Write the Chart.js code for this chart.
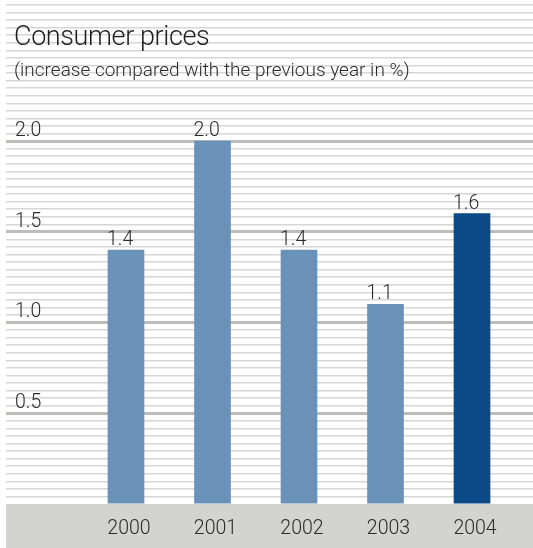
<!DOCTYPE html>
<html>
<head>
<meta charset="utf-8">
<title>Consumer prices</title>
<script src="https://cdn.jsdelivr.net/npm/chart.js@4.4.1/dist/chart.umd.min.js"></script>
<style>
  html, body { margin: 0; padding: 0; background: #fff; }
  #wrap { width: 533px; height: 548px; position: relative; }
</style>
</head>
<body>
<div id="wrap"><canvas id="pricesChart" width="533" height="548"></canvas></div>
<script>
// Consumer price increase per year (%)
const years = [2000, 2001, 2002, 2003, 2004];
const increase = [1.4, 2.0, 1.4, 1.1, 1.6];
const barColors = ['#6a92b9', '#6a92b9', '#6a92b9', '#6a92b9', '#0b4a86'];
const yLabels = [0.5, 1.0, 1.5, 2.0];
const titleText = 'Consumer prices';
const subtitleText = '(increase compared with the previous year in %)';

const FONT = "Roboto, 'Liberation Sans', Arial, sans-serif";
const TEXT = '#2b2b2b';
const Y_MAX = 2.75;
const STRIPES_PER_UNIT = 24;

Chart.defaults.font.family = FONT;
Chart.defaults.color = TEXT;

function isMajor(v) {
    return yLabels.some(l => Math.abs(l - v) < 1e-6);
}

// drop the extra room Chart.js keeps for edge labels
function noEdgePadding(scale) {
    scale.paddingTop = 0;
    scale.paddingBottom = 0;
    scale.paddingLeft = 0;
    scale.paddingRight = 0;
}

// grey band behind the year labels
const bandPlugin = {
    id: 'band',
    beforeDraw(chart) {
        const { ctx, scales: { x } } = chart;
        ctx.save();
        ctx.fillStyle = '#d3d3d1';
        ctx.fillRect(x.left, x.top, x.right - x.left, chart.height - x.top);
        ctx.restore();
    }
};

// numbers above the bars, left-aligned with the bar edge
const valuePlugin = {
    id: 'values',
    afterDatasetsDraw(chart) {
        const { ctx } = chart;
        const meta = chart.getDatasetMeta(0);
        ctx.save();
        ctx.font = `300 19.5px ${FONT}`;
        ctx.fillStyle = TEXT;
        ctx.textAlign = 'left';
        ctx.textBaseline = 'alphabetic';
        meta.data.forEach((bar, i) => {
            ctx.fillText(increase[i].toFixed(1), bar.x - bar.width / 2 - 1, bar.y - 5);
        });
        ctx.restore();
    }
};

// heading drawn over the striped background
const headerPlugin = {
    id: 'header',
    afterDraw(chart) {
        const { ctx } = chart;
        ctx.save();
        ctx.fillStyle = '#1e1e1e';
        ctx.textAlign = 'left';
        ctx.textBaseline = 'alphabetic';
        ctx.font = `300 27px ${FONT}`;
        ctx.letterSpacing = '-0.4px';
        ctx.fillText(titleText, 14, 45);
        ctx.fillStyle = TEXT;
        ctx.font = `300 19px ${FONT}`;
        ctx.letterSpacing = '0px';
        ctx.fillText(subtitleText, 14, 76);
        ctx.restore();
    }
};

const ctx = document.getElementById('pricesChart').getContext('2d');
const pricesChart = new Chart(ctx, {
    type: 'bar',
    data: {
        datasets: [{
            data: years.map((yr, i) => ({ x: yr, y: increase[i] })),
            backgroundColor: barColors,
            borderWidth: 0,
            barThickness: 36
        }]
    },
    options: {
        responsive: false,
        animation: false,
        events: [],
        layout: { padding: { left: 6, top: 5, right: 0, bottom: 0 } },
        plugins: {
            legend: { display: false },
            tooltip: { enabled: false }
        },
        scales: {
            x: {
                type: 'linear',
                offset: false,
                min: years[0] - 1.387,
                max: years[years.length - 1] + 0.705,
                afterBuildTicks: scale => {
                    scale.ticks = years.map(v => ({ value: v }));
                },
                afterFit: scale => { scale.height = 44; noEdgePadding(scale); },
                grid: { display: false },
                border: { display: false },
                ticks: {
                    autoSkip: false,
                    maxRotation: 0,
                    padding: 5,
                    labelOffset: 3,
                    color: TEXT,
                    font: { size: 19.5, weight: 300 },
                    callback: v => String(v)
                }
            },
            y: {
                min: 0,
                max: Y_MAX,
                afterBuildTicks: scale => {
                    const n = Math.round(Y_MAX * STRIPES_PER_UNIT);
                    scale.ticks = Array.from({ length: n + 1 }, (_, i) => ({ value: i / STRIPES_PER_UNIT }));
                },
                afterFit: scale => { scale.width = 0; noEdgePadding(scale); },
                border: { display: false },
                grid: {
                    drawTicks: false,
                    color: c => c.tick.value === 0 ? 'rgba(0,0,0,0)' : (isMajor(c.tick.value) ? '#bdbcb8' : '#d6d6d6'),
                    lineWidth: c => isMajor(c.tick.value) ? 3 : 1.5
                },
                ticks: {
                    mirror: true,
                    autoSkip: false,
                    padding: 9,
                    labelOffset: -10,
                    color: TEXT,
                    font: { size: 19.5, weight: 300 },
                    callback: v => isMajor(v) ? v.toFixed(1) : ''
                }
            }
        }
    },
    plugins: [bandPlugin, valuePlugin, headerPlugin]
});
</script>
</body>
</html>
